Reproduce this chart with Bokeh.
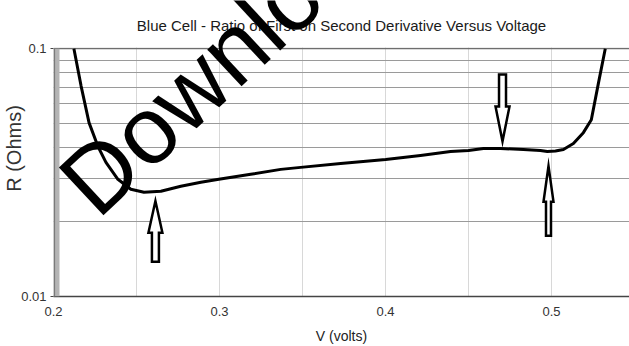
import numpy as np
from bokeh.plotting import figure
from bokeh.models import Range1d, FixedTicker, Label, BoxAnnotation
from bokeh.embed import file_html
from bokeh.resources import INLINE

# ---------------- data ----------------
title_text = "Blue Cell - Ratio of First on Second Derivative Versus Voltage"
x_label = "V (volts)"
y_label = "R (Ohms)"
watermark_text = "Download"

x_ticks = [0.2, 0.3, 0.4, 0.5]
x_minor_ticks = [0.25, 0.35, 0.45]
y_ticks = [0.01, 0.1]
y_tick_labels = ["0.01", "0.1"]
y_minor_ticks = [0.02, 0.03, 0.04, 0.05, 0.06, 0.07, 0.08, 0.09]

voltage = [0.2123, 0.2166, 0.2214, 0.2268, 0.2316, 0.2388, 0.2466,
           0.2545, 0.2647, 0.2767, 0.2888, 0.2996, 0.3188, 0.3369, 0.3489,
           0.3730, 0.4001, 0.4211, 0.4392, 0.4500, 0.4590, 0.4693, 0.4831,
           0.4933, 0.4975, 0.5024, 0.5072, 0.5132, 0.5192, 0.5240, 0.5282,
           0.5324]
ratio = [0.1000, 0.0708, 0.0503, 0.0403, 0.03476, 0.02971, 0.02710,
         0.02635, 0.02659, 0.02786, 0.02891, 0.02971, 0.03111, 0.03258, 0.03319,
         0.03443, 0.03573, 0.03707, 0.03847, 0.03882, 0.03955, 0.03955, 0.03918,
         0.03882, 0.03847, 0.03865, 0.03918, 0.04141, 0.04583, 0.05168, 0.0721,
         0.1000]

# annotation arrows: x position, tip, neck (head base), tail values
arrow_x = [0.2614, 0.4705, 0.4982]
arrow_tip = [0.0243, 0.0423, 0.0336]
arrow_neck = [0.0181, 0.0585, 0.0241]
arrow_tail = [0.0138, 0.0786, 0.0176]

# ---------------- figure ----------------
W, H = 629, 346
left_b, bottom_b = 52, 48
x0, x1 = 0.2, 0.547
frame_h = H - bottom_b                 # frame spans from canvas top to the x axis
decade_px = 249.5                      # pixel height of one decade in the reference
y_top = 10 ** (-2 + frame_h / decade_px)

p = figure(width=W, height=H, x_range=Range1d(x0, x1), y_range=Range1d(0.01, y_top),
           y_axis_type="log", output_backend="svg", toolbar_location=None,
           min_border_left=left_b, min_border_right=0, min_border_top=0,
           min_border_bottom=bottom_b)
p.outline_line_color = None
p.background_fill_color = "white"
p.border_fill_color = "white"

px_to_v = (x1 - x0) / (W - left_b)
px_to_log = 1.0 / decade_px


def page_to_data(px, py):
    """convert a canvas pixel position to data coordinates"""
    return x0 + (px - left_b) * px_to_v, y_ticks[-1] * 10 ** (-(py - 48.5) * px_to_log)


# x axis
p.xaxis.ticker = FixedTicker(ticks=x_ticks, minor_ticks=x_minor_ticks)
p.xaxis.axis_label = x_label
p.xaxis.axis_label_text_font = "Liberation Sans"
p.xaxis.axis_label_text_font_size = "14px"
p.xaxis.axis_label_text_font_style = "normal"
p.xaxis.axis_label_text_color = "#222222"
p.xaxis.axis_label_standoff = 9
p.xaxis.major_label_text_font = "Liberation Sans"
p.xaxis.major_label_text_font_size = "13px"
p.xaxis.major_label_text_color = "#333333"
p.xaxis.major_label_standoff = 6
p.xaxis.major_tick_out = 0
p.xaxis.major_tick_in = 0
p.xaxis.major_tick_line_color = None
p.xaxis.minor_tick_line_color = None
p.xaxis.axis_line_color = "#444444"
p.xaxis.axis_line_width = 1.5

# y axis
p.yaxis.ticker = FixedTicker(ticks=y_ticks, minor_ticks=y_minor_ticks)
p.yaxis.major_label_overrides = {t: s for t, s in zip(y_ticks, y_tick_labels)}
p.yaxis.major_label_text_font = "Liberation Sans"
p.yaxis.major_label_text_font_size = "13px"
p.yaxis.major_label_text_color = "#333333"
p.yaxis.major_label_standoff = 3
p.yaxis.major_tick_out = 3
p.yaxis.major_tick_in = 0
p.yaxis.major_tick_line_color = "#444444"
p.yaxis.minor_tick_line_color = None
p.yaxis.axis_line_color = None
p.yaxis.axis_label = y_label
p.yaxis.axis_label_text_font = "Liberation Sans"
p.yaxis.axis_label_text_font_size = "20px"
p.yaxis.axis_label_text_font_style = "normal"
p.yaxis.axis_label_text_color = "#333333"
p.yaxis.axis_label_standoff = -7

# grids
p.xgrid.grid_line_color = "#b0b0b0"
p.xgrid.grid_line_dash = "1 1"
p.xgrid.minor_grid_line_color = "#b0b0b0"
p.xgrid.minor_grid_line_dash = "1 1"
p.ygrid.grid_line_color = "#6e6e6e"
p.ygrid.grid_line_width = 1.5
p.ygrid.minor_grid_line_color = "#9a9a9a"
p.ygrid.minor_grid_line_width = 1

# white band above the top of the scale (title area)
p.add_layout(BoxAnnotation(bottom=y_ticks[-1] * 10 ** (1.2 * px_to_log), fill_color="white",
                           fill_alpha=1.0, line_color=None))

# grey bar along the y axis
p.add_layout(BoxAnnotation(left=x0, right=x0 + 6 * px_to_v, bottom=y_ticks[0], top=y_ticks[-1],
                           fill_color="#b4b4b4", fill_alpha=1.0, line_color=None))
p.add_layout(BoxAnnotation(left=x0, right=x0 + 1.6 * px_to_v, bottom=y_ticks[0], top=y_ticks[-1],
                           fill_color="#7a7a7a", fill_alpha=1.0, line_color=None))

# curve
p.line(voltage, ratio, line_color="black", line_width=3, line_join="round")

# hollow block arrows
head_half = [7, 7, 5]
shaft_half = [3.5, 3.5, 2.5]
xs, ys = [], []
for xv, tip, neck, tail, hh, sh in zip(arrow_x, arrow_tip, arrow_neck, arrow_tail, head_half, shaft_half):
    h = hh * px_to_v
    s = sh * px_to_v
    xs.append([xv - s, xv - s, xv - h, xv, xv + h, xv + s, xv + s])
    ys.append([tail, neck, neck, tip, neck, neck, tail])
p.patches(xs, ys, fill_color="white", line_color="black", line_width=2.5, line_join="miter")

# title (drawn inside the canvas top band)
title_x, title_y = page_to_data(340.5, 25.5)
p.add_layout(Label(x=title_x, y=title_y, text=title_text, text_align="center",
                   text_baseline="middle", text_font="Liberation Sans",
                   text_font_size="15px", text_color="#1a1a1a"))

# watermark, rotated; anchored at the middle of its first letter's left edge
wm_size = 95
ang = np.deg2rad(43)
base_px, base_py = 97.0, 222.0                    # baseline start on the canvas
mid = 0.358 * wm_size                              # baseline -> middle offset
wm_px = base_px - mid * np.sin(ang)
wm_py = base_py - mid * np.cos(ang)
wm_x, wm_y = page_to_data(wm_px, wm_py)
p.add_layout(Label(x=wm_x, y=wm_y, text=watermark_text, angle=ang,
                   text_align="left", text_baseline="middle",
                   text_font="Liberation Sans", text_font_size=f"{wm_size}px",
                   text_color="black", level="overlay"))

open("out.html", "w").write(file_html(p, INLINE))
